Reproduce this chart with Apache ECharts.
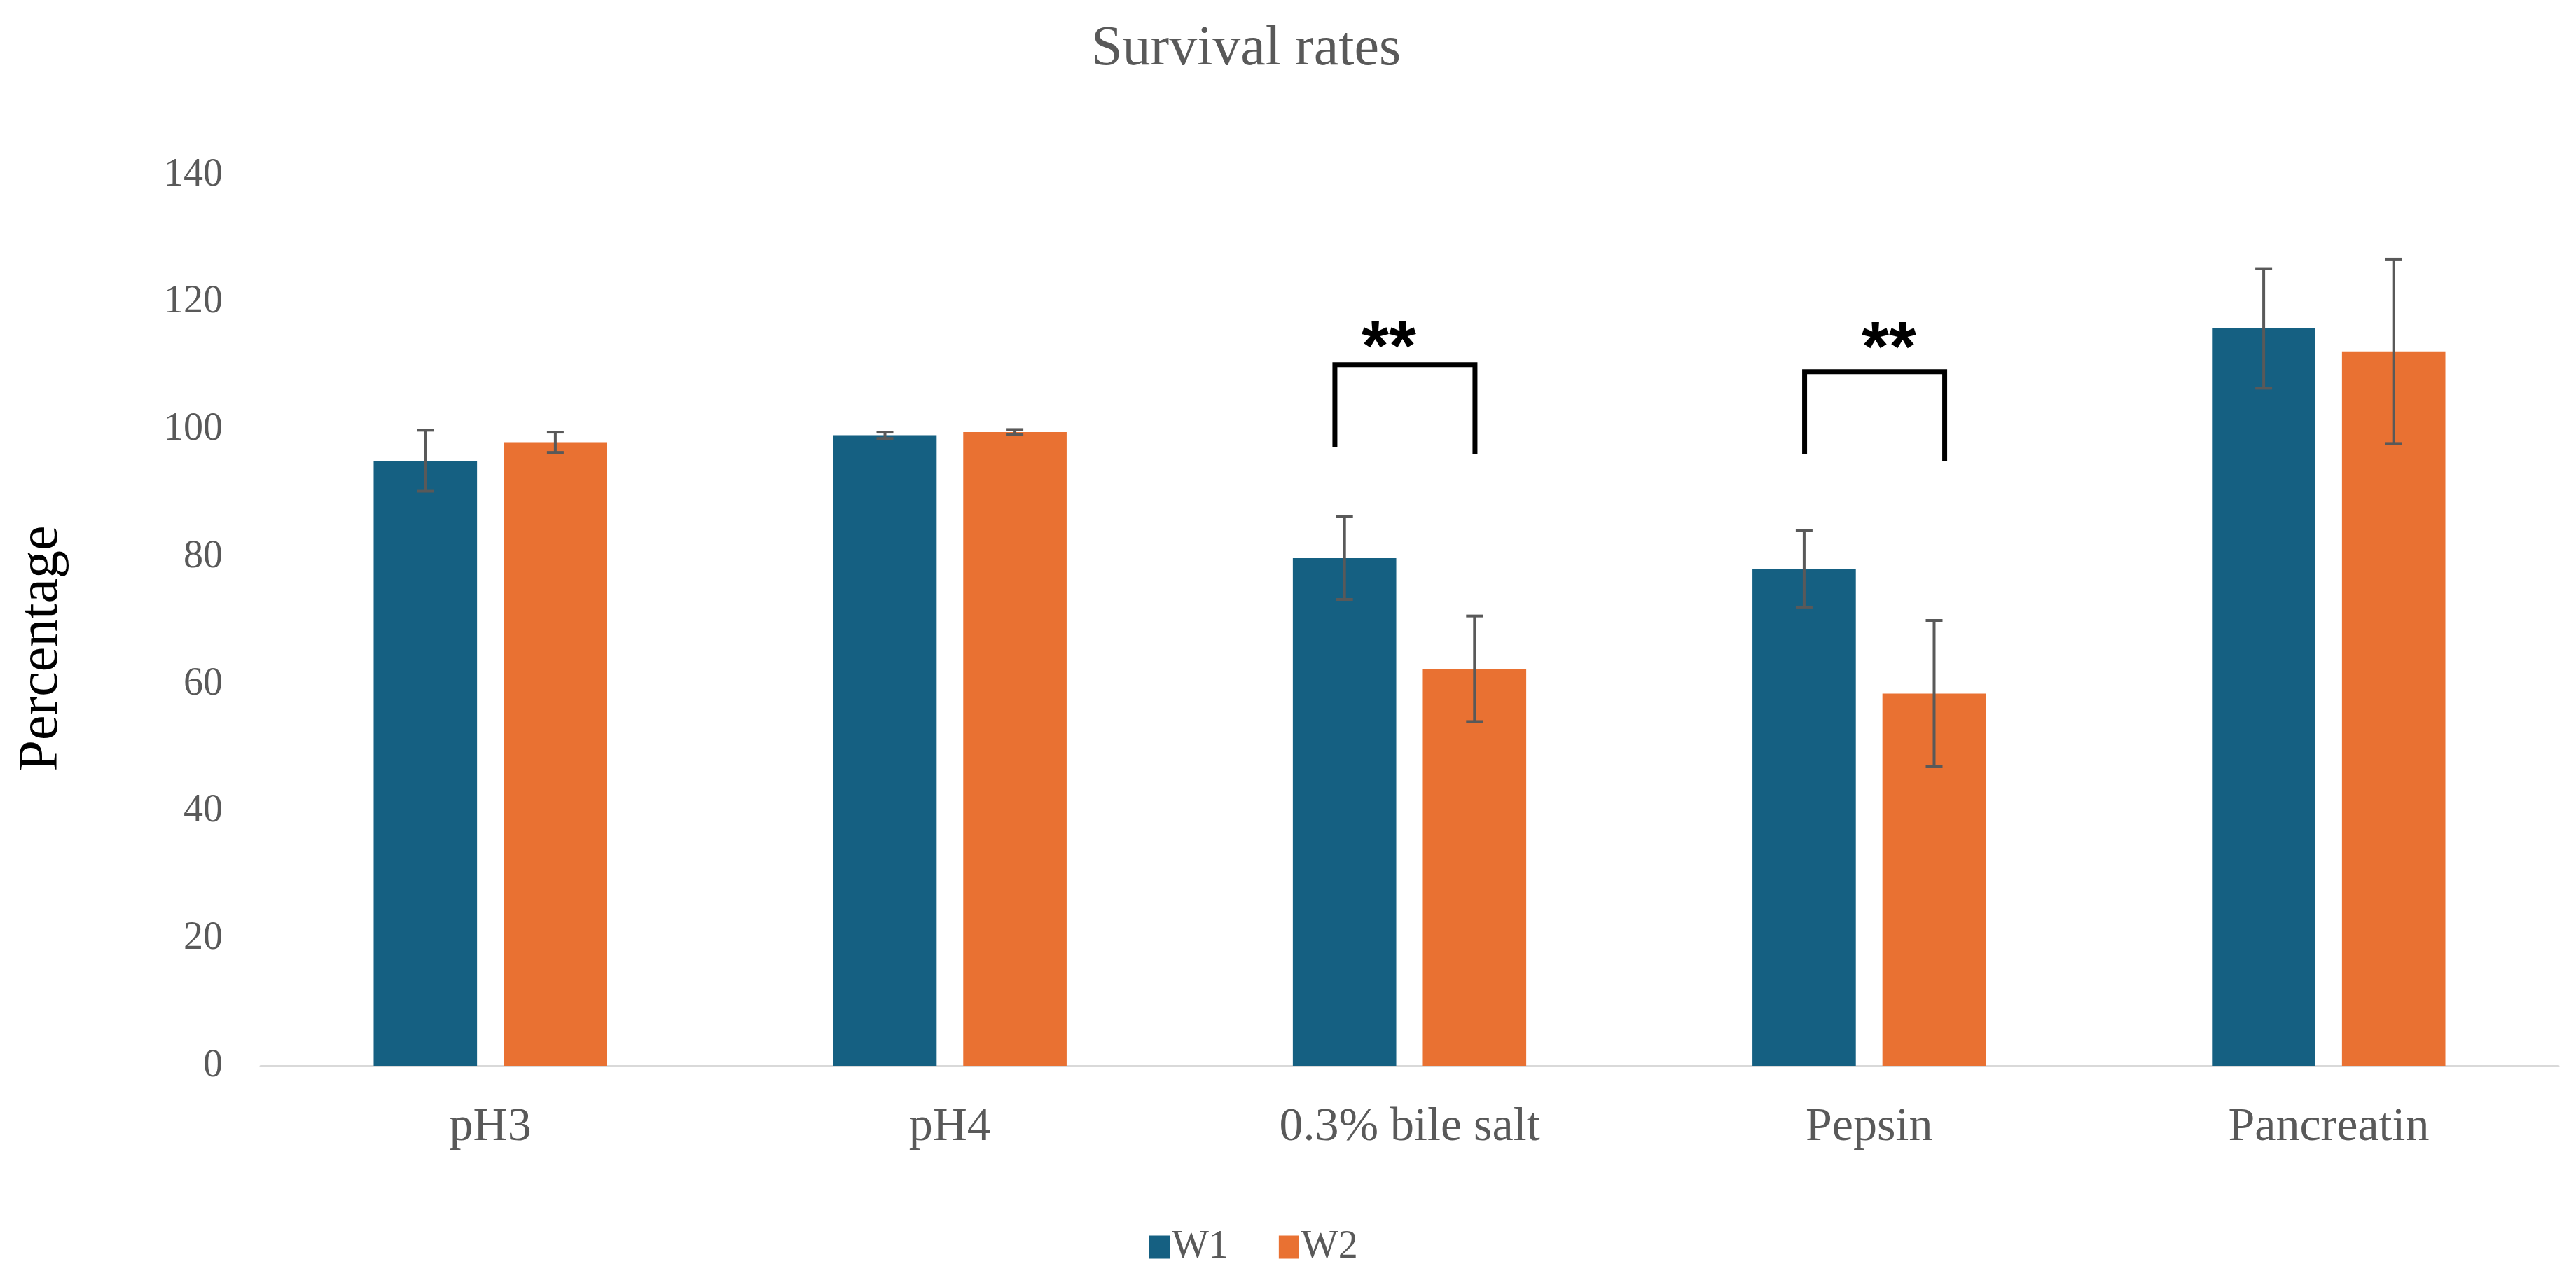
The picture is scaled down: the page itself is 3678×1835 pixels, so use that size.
<!DOCTYPE html>
<html>
<head>
<meta charset="utf-8">
<script src="https://cdn.jsdelivr.net/npm/echarts@6/dist/echarts.min.js"></script>
<style>
  html, body { margin: 0; padding: 0; background: #ffffff; }
  #chart { width: 3678px; height: 1835px; }
</style>
</head>
<body>
<div id="chart"></div>
<script>
// ---- data ----
const categories = ['pH3', 'pH4', '0.3% bile salt', 'Pepsin', 'Pancreatin'];
const seriesNames = ['W1', 'W2'];
const w1Values = [95.1, 99.1, 79.8, 78.1, 115.9];
const w1Errors = [4.8, 0.5, 6.5, 6.0, 9.4];
const w2Values = [98.0, 99.6, 62.4, 58.5, 112.3];
const w2Errors = [1.6, 0.4, 8.3, 11.5, 14.5];
const yTickValues = [0, 20, 40, 60, 80, 100, 120, 140];

// significance annotations (values in axis units)
const sigCategories = ['0.3% bile salt', 'Pepsin'];
const sigLabels = ['**', '**'];
const sigBracketTop = [110.2, 109.1];
const sigLeftEnd = [97.3, 96.2];
const sigRightEnd = [96.2, 95.1];
const sigLabelValue = [112.4, 112.3];

// ---- layout / styles ----
const SERIF = "'Liberation Serif', 'Times New Roman', serif";
const BLUE = '#156082';
const ORANGE = '#E97132';
const GREY_TEXT = '#595959';
const BAR_WIDTH_FRAC = 0.225;
const BAR_GAP_FRAC = 0.257;
// horizontal nudges (fraction of category band) for the annotations
const SIG_BRACKET_SHIFT = [-0.010, 0.012];
const SIG_LABEL_SHIFT = [-0.045, 0.043];

const chart = echarts.init(document.getElementById('chart'), null, { renderer: 'canvas' });

function barOffset(api, sign) {
  const band = api.size([1, 0])[0];
  const bw = band * BAR_WIDTH_FRAC;
  const gap = bw * BAR_GAP_FRAC;
  return sign * (bw + gap) / 2;
}

function errorRender(sign) {
  return function (params, api) {
    const idx = api.value(0);
    const lo = api.coord([idx, api.value(1)]);
    const hi = api.coord([idx, api.value(2)]);
    const x = lo[0] + barOffset(api, sign);
    const cap = 12;
    const style = { stroke: '#595959', lineWidth: 4 };
    return {
      type: 'group',
      children: [
        { type: 'line', shape: { x1: x, y1: lo[1], x2: x, y2: hi[1] }, style },
        { type: 'line', shape: { x1: x - cap, y1: lo[1], x2: x + cap, y2: lo[1] }, style },
        { type: 'line', shape: { x1: x - cap, y1: hi[1], x2: x + cap, y2: hi[1] }, style }
      ]
    };
  };
}

const errData1 = categories.map((c, i) => [i, w1Values[i] - w1Errors[i], w1Values[i] + w1Errors[i]]);
const errData2 = categories.map((c, i) => [i, w2Values[i] - w2Errors[i], w2Values[i] + w2Errors[i]]);
const sigData = sigCategories.map((c, i) => [categories.indexOf(c), sigBracketTop[i], sigLeftEnd[i], sigRightEnd[i], sigLabelValue[i]]);

const option = {
  backgroundColor: '#ffffff',
  animation: false,
  title: {
    text: 'Survival rates',
    left: 1553,
    top: 26,
    textStyle: { fontFamily: SERIF, fontSize: 80, fontWeight: 'normal', color: GREY_TEXT }
  },
  legend: {
    data: seriesNames,
    left: 1636,
    top: 1748,
    itemWidth: 29,
    itemHeight: 33,
    itemGap: 72,
    icon: 'rect',
    textStyle: { fontFamily: SERIF, fontSize: 56, color: GREY_TEXT, padding: [0, 0, 0, -2] }
  },
  grid: { left: 372, right: 25, top: 250, bottom: 313, containLabel: false },
  xAxis: {
    type: 'category',
    data: categories,
    axisLine: { show: true, lineStyle: { color: '#D9D9D9', width: 3 } },
    axisTick: { show: false },
    axisLabel: { fontFamily: SERIF, fontSize: 68, color: GREY_TEXT, margin: 54 },
    splitLine: { show: false }
  },
  yAxis: {
    type: 'value',
    min: yTickValues[0],
    max: yTickValues[yTickValues.length - 1],
    interval: yTickValues[1] - yTickValues[0],
    axisLine: { show: false },
    axisTick: { show: false },
    splitLine: { show: false },
    axisLabel: { fontFamily: SERIF, fontSize: 56, color: GREY_TEXT, margin: 54 }
  },
  graphic: [
    {
      type: 'text',
      x: 60,
      y: 926,
      rotation: Math.PI / 2,
      style: {
        text: 'Percentage',
        font: "80px 'Liberation Serif', 'Times New Roman', serif",
        fill: '#000000',
        align: 'center',
        verticalAlign: 'middle'
      }
    }
  ],
  series: [
    {
      name: 'W1', type: 'bar', data: w1Values,
      barWidth: (BAR_WIDTH_FRAC * 100) + '%', barGap: (BAR_GAP_FRAC * 100) + '%',
      itemStyle: { color: BLUE }
    },
    {
      name: 'W2', type: 'bar', data: w2Values,
      barWidth: (BAR_WIDTH_FRAC * 100) + '%', barGap: (BAR_GAP_FRAC * 100) + '%',
      itemStyle: { color: ORANGE }
    },
    {
      name: 'W1 error', type: 'custom', data: errData1, z: 5,
      renderItem: errorRender(-1), encode: { x: 0, y: [1, 2] }
    },
    {
      name: 'W2 error', type: 'custom', data: errData2, z: 5,
      renderItem: errorRender(1), encode: { x: 0, y: [1, 2] }
    },
    {
      name: 'significance', type: 'custom', data: sigData, z: 6,
      encode: { x: 0, y: [1, 2, 3, 4] },
      renderItem: function (params, api) {
        const i = params.dataIndex;
        const idx = api.value(0);
        const band = api.size([1, 0])[0];
        const half = band * 0.1524;
        const top = api.coord([idx, api.value(1)]);
        const lEnd = api.coord([idx, api.value(2)]);
        const rEnd = api.coord([idx, api.value(3)]);
        const lab = api.coord([idx, api.value(4)]);
        const cx = top[0] + band * SIG_BRACKET_SHIFT[i];
        const lx = top[0] + band * SIG_LABEL_SHIFT[i];
        return {
          type: 'group',
          children: [
            {
              type: 'polyline',
              shape: { points: [[cx - half, lEnd[1]], [cx - half, top[1]], [cx + half, top[1]], [cx + half, rEnd[1]]] },
              style: { stroke: '#000000', lineWidth: 7, fill: null, lineJoin: 'miter' }
            },
            {
              type: 'text',
              x: lx,
              y: lab[1],
              style: {
                text: sigLabels[i],
                font: "bold 100px 'Liberation Sans', Arial, sans-serif",
                fill: '#000000',
                align: 'center',
                verticalAlign: 'middle'
              }
            }
          ]
        };
      }
    }
  ]
};

chart.setOption(option);
</script>
</body>
</html>
